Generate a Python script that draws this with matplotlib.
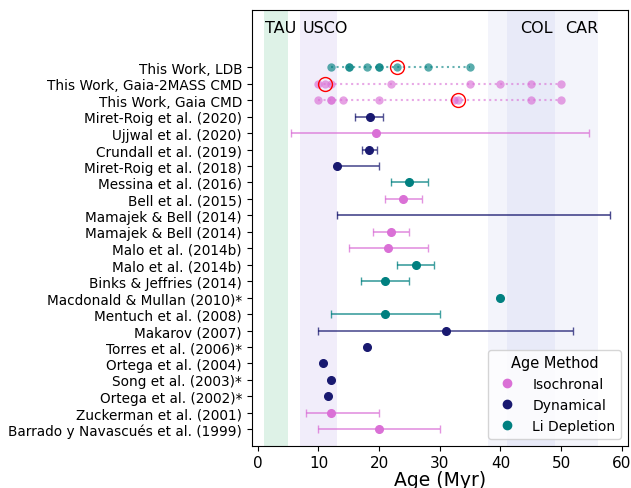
import matplotlib
matplotlib.use("Agg")
import matplotlib.pyplot as plt
from matplotlib.lines import Line2D

COLORS = {"Isochronal": "orchid", "Dynamical": "midnightblue", "Li Depletion": "teal"}

# literature ages, listed bottom -> top
lit_labels = [
    "Barrado y Navascués et al. (1999)", "Zuckerman et al. (2001)",
    "Ortega et al. (2002)*", "Song et al. (2003)*", "Ortega et al. (2004)",
    "Torres et al. (2006)*", "Makarov (2007)", "Mentuch et al. (2008)",
    "Macdonald & Mullan (2010)*", "Binks & Jeffries (2014)",
    "Malo et al. (2014b)", "Malo et al. (2014b)", "Mamajek & Bell (2014)",
    "Mamajek & Bell (2014)", "Bell et al. (2015)", "Messina et al. (2016)",
    "Miret-Roig et al. (2018)", "Crundall et al. (2019)", "Ujjwal et al. (2020)",
    "Miret-Roig et al. (2020)",
]
lit_age = [20, 12, 11.5, 12, 10.8, 18, 31, 21, 40, 21,
           26, 21.5, 22, None, 24, 25, 13, 18.3, 19.4, 18.5]
lit_lo = [10, 8, None, None, None, None, 10, 12, None, 17,
          23, 15, 19, 13, 21, 22, 13, 17.1, 5.5, 16.1]
lit_hi = [30, 20, None, None, None, None, 52, 30, None, 25,
          29, 28, 25, 58, 27, 28, 20, 19.7, 54.6, 20.6]
lit_method = ["Isochronal", "Isochronal", "Dynamical", "Dynamical", "Dynamical",
              "Dynamical", "Dynamical", "Li Depletion", "Li Depletion",
              "Li Depletion", "Li Depletion", "Isochronal", "Isochronal",
              "Dynamical", "Isochronal", "Li Depletion", "Dynamical",
              "Dynamical", "Isochronal", "Dynamical"]

# this work: trial ages per row, plus the adopted value
tw_labels = ["This Work, Gaia CMD", "This Work, Gaia-2MASS CMD", "This Work, LDB"]
tw_ages = [
    [10, 12, 12, 14, 20, 32.3, 33, 45, 50],
    [10, 11, 12, 22, 35, 40, 45, 50],
    [12, 15, 15, 18, 20, 20, 23, 28, 35],
]
tw_best = [33, 11, 23]
tw_method = ["Isochronal", "Isochronal", "Li Depletion"]

groups = ["TAU", "USCO", "COL", "CAR"]
group_span = [(1, 5), (7, 13), (38, 49), (41, 56)]
group_color = ["mediumseagreen", "mediumpurple", "#6a78d8", "#6a78d8"]
group_alpha = [0.17, 0.12, 0.08, 0.08]
group_text_x = [1.2, 7.4, 43.2, 50.6]

fig = plt.figure(figsize=(6.31, 4.89), dpi=100)
ax = fig.add_axes([0.399, 0.0865, 0.596, 0.8915])

for (a, b), c, al in zip(group_span, group_color, group_alpha):
    ax.axvspan(a, b, color=c, alpha=al, lw=0, zorder=0)

for i, (age, lo, hi, m) in enumerate(zip(lit_age, lit_lo, lit_hi, lit_method)):
    c = COLORS[m]
    if age is None:
        ax.errorbar((lo + hi) / 2, i, xerr=(hi - lo) / 2, fmt="none",
                    ecolor=c, alpha=0.8, capsize=3, elinewidth=1.2)
    elif lo is None:
        ax.plot(age, i, "o", color=c, ms=5.5)
    else:
        ax.errorbar(age, i, xerr=[[age - lo], [hi - age]], fmt="none",
                    ecolor=c, alpha=0.75, capsize=3, elinewidth=1.2)
        ax.plot(age, i, "o", color=c, ms=5.5)

n = len(lit_labels)
for j, (ages, best, m) in enumerate(zip(tw_ages, tw_best, tw_method)):
    y = n + j
    c = COLORS[m]
    ax.plot([min(ages), max(ages)], [y, y], ls=":", color=c, alpha=0.6, lw=1.5)
    ax.plot(ages, [y] * len(ages), "o", color=c, alpha=0.65, ms=6, mec="none")
    ax.plot(best, y, "o", mfc="none", mec="red", ms=10, mew=1)

for g, x in zip(groups, group_text_x):
    ax.text(x, 24.4, g, fontsize=11.5, va="center", ha="left")

ax.set_yticks(range(n + len(tw_labels)))
ax.set_yticklabels(lit_labels + tw_labels, fontsize=9.8)
ax.set_xlim(-1, 61)
ax.set_ylim(-1, 25.5)
ax.set_xticks(range(0, 61, 10))
ax.tick_params(axis="x", labelsize=11)
ax.set_xlabel("Age (Myr)", fontsize=13.5, labelpad=0)

handles = [Line2D([], [], ls="none", marker="o", color=COLORS[k], ms=6) for k in COLORS]
ax.legend(handles, list(COLORS), title="Age Method", loc="lower right",
          fontsize=10, title_fontsize=10.5)

fig.savefig("out.png", dpi=100)
